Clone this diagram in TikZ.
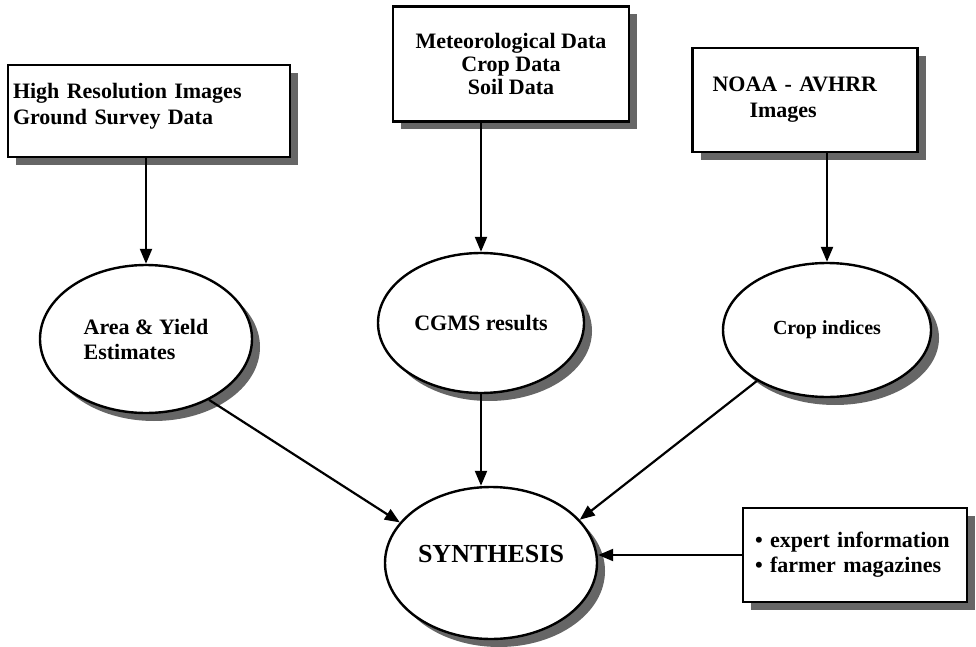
\documentclass[tikz,border=0pt]{standalone}
\usepackage{fontspec}
\setmainfont{Liberation Serif}
\usetikzlibrary{shapes.geometric,shadows,arrows.meta}
\tikzset{
  shade/.style={drop shadow={shadow xshift=8pt,shadow yshift=-8pt,fill=black!60,opacity=1}},
  databox/.style={draw,rectangle,line width=2.4pt,fill=white,shade,inner ysep=0pt,
    font=\bfseries\fontsize{22}{26}\selectfont},
  resell/.style={draw,ellipse,line width=2.4pt,fill=white,shade,inner sep=0pt,
    font=\bfseries\fontsize{22}{25}\selectfont},
  flow/.style={line width=2.2pt,-{Triangle[length=15pt,width=12pt]}}
}
\begin{document}
\begin{tikzpicture}[x=1pt,y=-1pt]
\useasboundingbox (0,0) rectangle (976,647);
% sources
\node[databox,minimum width=282pt,minimum height=92pt,inner xsep=5pt,text width=272pt,align=left,text depth=40pt] (hires) at (149,111) {High Resolution Images\\Ground Survey Data};
\node[databox,minimum width=236pt,minimum height=115pt,align=center,font=\bfseries\fontsize{22}{23}\selectfont] (meteo) at (511,64) {Meteorological Data\\Crop Data\\Soil Data};
\node[databox,minimum width=225pt,minimum height=104pt,inner xsep=20pt,text width=185pt,align=left] (noaa) at (805,100) {NOAA - AVHRR\\\hspace*{37pt}Images};
\node[databox,minimum width=224pt,minimum height=94pt,inner xsep=12pt,text width=200pt,align=left,font=\bfseries\fontsize{22}{25}\selectfont] (expert) at (855,555) {\textbullet~expert information\\\textbullet~farmer magazines};
% results
\node[resell,minimum width=212pt,minimum height=148pt,align=left] (areaest) at (146,339) {Area \& Yield\\Estimates};
\node[resell,minimum width=206pt,minimum height=140pt] (cgms) at (481,323) {CGMS results};
\node[resell,minimum width=208pt,minimum height=134pt,font=\bfseries\fontsize{20}{24}\selectfont] (cropidx) at (827,330) {Crop indices};
\node[resell,minimum width=212pt,minimum height=152pt,text depth=18pt,font=\bfseries\fontsize{26}{30}\selectfont] (synth) at (491,563) {SYNTHESIS};
% arrows
\draw[flow] (hires.south -| areaest.north) -- (areaest.north);
\draw[flow] (meteo.south -| cgms.north) -- (cgms.north);
\draw[flow] (noaa.south -| cropidx.north) -- (cropidx.north);
\draw[flow] (areaest.-44) -- (synth.156);
\draw[flow] (cgms.south) -- (cgms.south |- synth.north);
\draw[flow] (cropidx.216) -- (synth.26);
\draw[flow] (expert.west) -- (synth.east |- expert.west);
\end{tikzpicture}
\end{document}
